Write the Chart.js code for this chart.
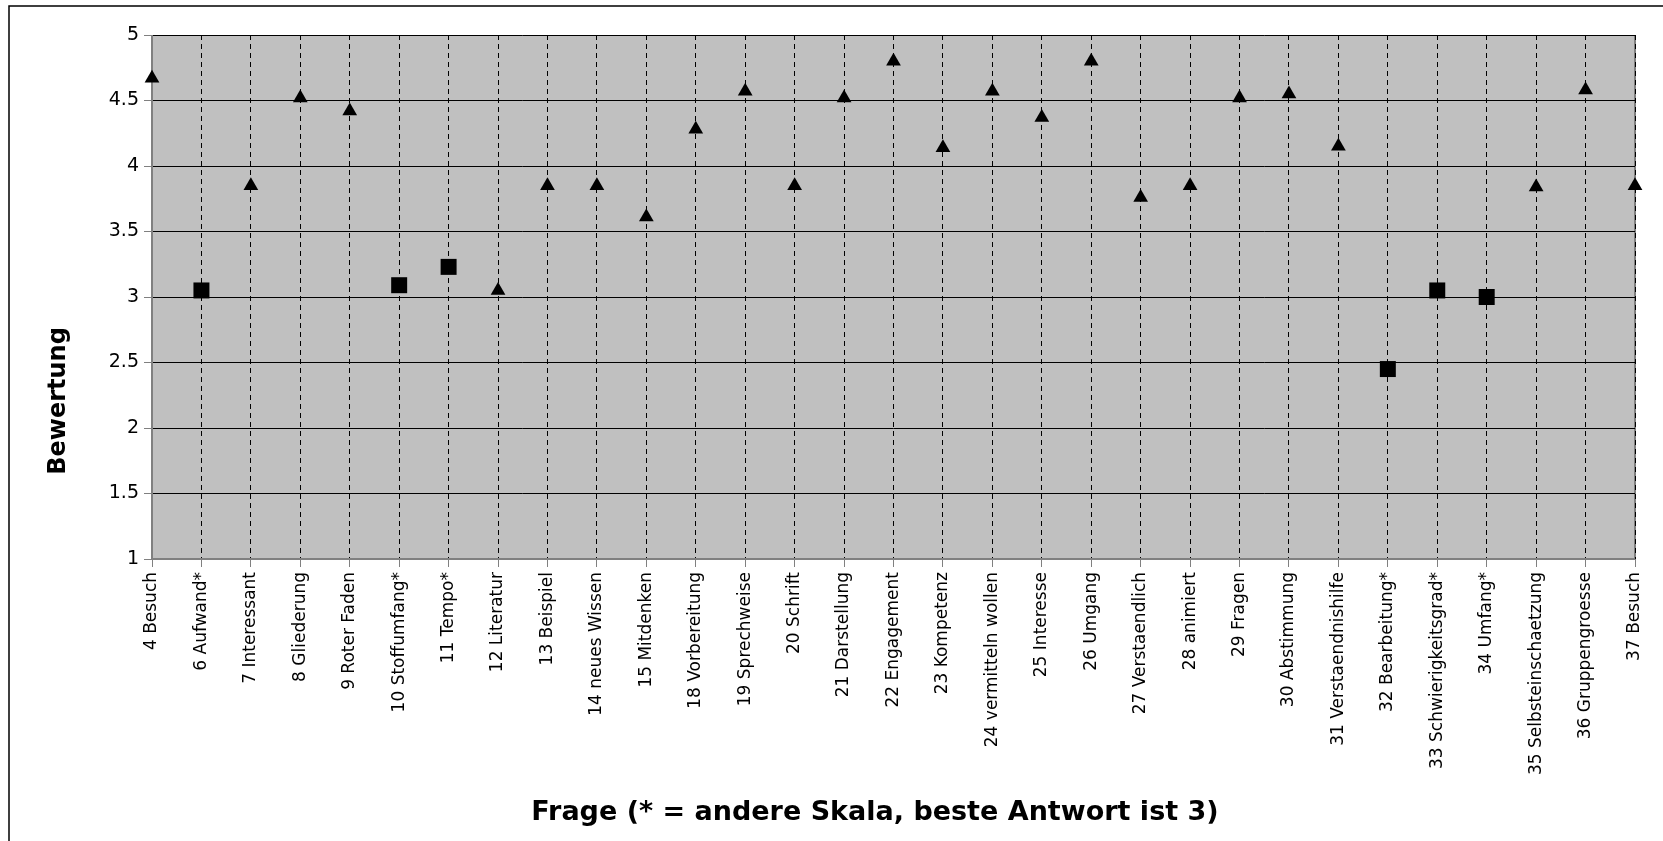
<!DOCTYPE html>
<html>
<head>
<meta charset="utf-8">
<script src="https://cdn.jsdelivr.net/npm/chart.js@4/dist/chart.umd.min.js"></script>
<style>
    html, body { margin: 0; padding: 0; background: #fff; }
    #wrap { width: 1663px; height: 841px; }
</style>
</head>
<body>
<div id="wrap"><canvas id="fragenChart"></canvas></div>
<script>
const fragen = [
    '4 Besuch', '6 Aufwand*', '7 Interessant', '8 Gliederung', '9 Roter Faden',
    '10 Stoffumfang*', '11 Tempo*', '12 Literatur', '13 Beispiel', '14 neues Wissen',
    '15 Mitdenken', '18 Vorbereitung', '19 Sprechweise', '20 Schrift', '21 Darstellung',
    '22 Engagement', '23 Kompetenz', '24 vermitteln wollen', '25 Interesse', '26 Umgang',
    '27 Verstaendlich', '28 animiert', '29 Fragen', '30 Abstimmung', '31 Verstaendnishilfe',
    '32 Bearbeitung*', '33 Schwierigkeitsgrad*', '34 Umfang*', '35 Selbsteinschaetzung',
    '36 Gruppengroesse', '37 Besuch'
];

// normale Skala (Dreiecke)
const bewertungNormal = [
    4.67, null, 3.85, 4.52, 4.42,
    null, null, 3.05, 3.85, 3.85,
    3.61, 4.28, 4.57, 3.85, 4.52,
    4.80, 4.14, 4.57, 4.37, 4.80,
    3.76, 3.85, 4.52, 4.55, 4.15,
    null, null, null, 3.84,
    4.58, 3.85
];

// andere Skala, beste Antwort ist 3 (Quadrate)
const bewertungAndere = [
    null, 3.05, null, null, null,
    3.09, 3.23, null, null, null,
    null, null, null, null, null,
    null, null, null, null, null,
    null, null, null, null, null,
    2.45, 3.05, 3.00, null,
    null, null
];

const yMin = 1;
const yMax = 5;
const yStep = 0.5;

const xTitle = 'Frage (* = andere Skala, beste Antwort ist 3)';
const yTitle = 'Bewertung';

const plotFrame = {
    id: 'plotFrame',
    beforeDraw(chart) {
        const { ctx, chartArea: a } = chart;
        ctx.save();
        ctx.fillStyle = '#fff';
        ctx.fillRect(0, 0, chart.width, chart.height);
        // outer border (only top and left are visible)
        ctx.strokeStyle = '#000';
        ctx.lineWidth = 1.5;
        ctx.beginPath();
        ctx.moveTo(9, chart.height + 2);
        ctx.lineTo(9, 6);
        ctx.lineTo(chart.width + 2, 6);
        ctx.stroke();
        ctx.fillStyle = '#c0c0c0';
        ctx.fillRect(a.left, a.top, a.right - a.left, a.bottom - a.top);
        ctx.strokeStyle = '#808080';
        ctx.lineWidth = 2;
        ctx.beginPath();
        ctx.moveTo(a.right, a.top);
        ctx.lineTo(a.right, a.bottom);
        ctx.stroke();
        ctx.restore();
    },
    beforeDatasetsDraw(chart) {
        const { ctx, chartArea: a } = chart;
        ctx.save();
        ctx.strokeStyle = '#808080';
        ctx.lineWidth = 2;
        ctx.beginPath();
        ctx.moveTo(a.left, a.top);
        ctx.lineTo(a.left, a.bottom);
        ctx.lineTo(a.right, a.bottom);
        ctx.stroke();
        ctx.restore();
    },
    afterDraw(chart) {
        // axis titles, centred like in the original diagram
        const { ctx } = chart;
        ctx.save();
        ctx.fillStyle = '#000';
        ctx.textAlign = 'center';
        ctx.textBaseline = 'middle';
        ctx.font = 'bold 27px "DejaVu Sans"';
        ctx.fillText(xTitle, 875, 813);
        ctx.translate(59, 401);
        ctx.rotate(-Math.PI / 2);
        ctx.font = 'bold 24px "DejaVu Sans"';
        ctx.fillText(yTitle, 0, 0);
        ctx.restore();
    }
};

const ctx = document.getElementById('fragenChart');

new Chart(ctx, {
    type: 'line',
    data: {
        labels: fragen,
        datasets: [{
            label: 'Bewertung',
            data: bewertungNormal,
            showLine: false,
            pointStyle: 'triangle',
            pointRadius: 8.5,
            pointBackgroundColor: '#000',
            pointBorderColor: '#000',
            pointBorderWidth: 0,
            clip: false
        }, {
            label: 'Bewertung (andere Skala)',
            data: bewertungAndere,
            showLine: false,
            pointStyle: 'rect',
            pointRadius: 11.3,
            pointBackgroundColor: '#000',
            pointBorderColor: '#000',
            pointBorderWidth: 0,
            clip: false
        }]
    },
    options: {
        responsive: true,
        maintainAspectRatio: false,
        animation: false,
        events: [],
        layout: {
            padding: { left: 0, top: 35, right: 28, bottom: 0 }
        },
        plugins: {
            legend: { display: false },
            tooltip: { enabled: false }
        },
        scales: {
            x: {
                offset: false,
                afterFit: (scale) => { scale.height = 282; },
                grid: {
                    color: '#000',
                    lineWidth: 1,
                    tickColor: '#808080',
                    tickLength: 8
                },
                border: { display: false, dash: [5, 4] },
                ticks: {
                    autoSkip: false,
                    minRotation: 90,
                    maxRotation: 90,
                    padding: 5,
                    color: '#000',
                    font: { family: 'DejaVu Sans', size: 17 }
                }
            },
            y: {
                min: yMin,
                max: yMax,
                afterFit: (scale) => { scale.width = 152; },
                grid: {
                    color: '#000',
                    lineWidth: 1,
                    tickColor: '#808080',
                    tickLength: 8
                },
                border: { display: false },
                ticks: {
                    stepSize: yStep,
                    padding: 5,
                    color: '#000',
                    font: { family: 'DejaVu Sans', size: 19 },
                    callback: (value) => String(value)
                }
            }
        }
    },
    plugins: [plotFrame]
});
</script>
</body>
</html>
